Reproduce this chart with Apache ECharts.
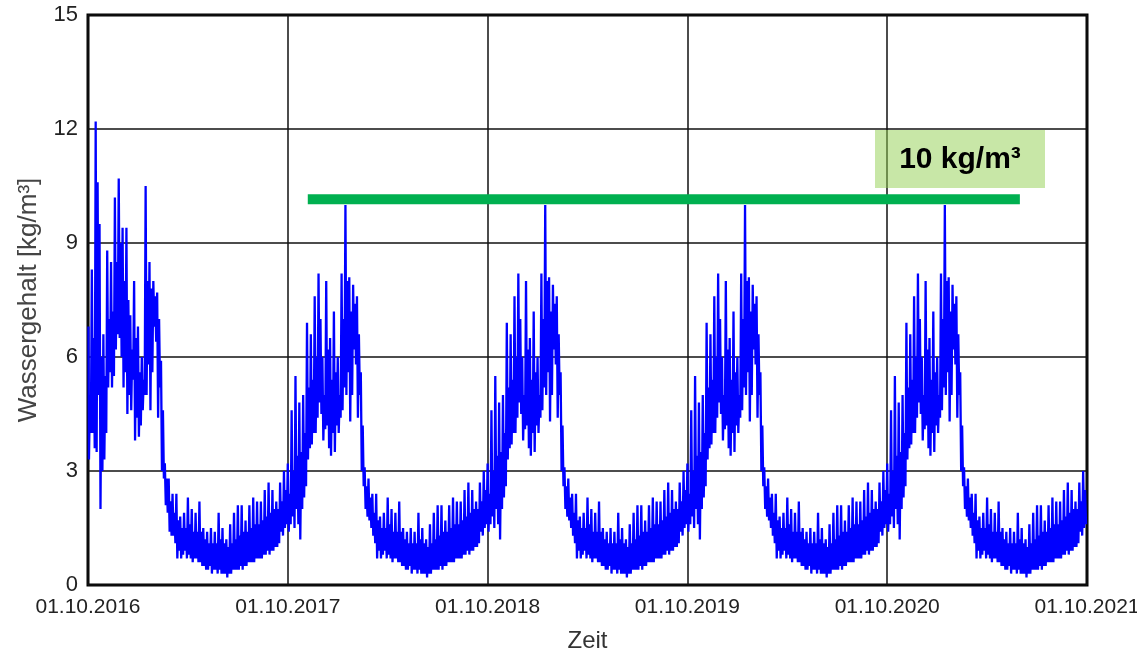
<!DOCTYPE html>
<html>
<head>
<meta charset="utf-8">
<script src="https://cdn.jsdelivr.net/npm/echarts@6/dist/echarts.min.js"></script>
<style>
  html, body { margin: 0; padding: 0; background: #fff; }
  #chart { width: 1137px; height: 655px; }
</style>
</head>
<body>
<div id="chart"></div>
<script>
// x axis: years after 01.10.2016, one gridline per year
const yearLabels = ['01.10.2016', '01.10.2017', '01.10.2018', '01.10.2019', '01.10.2020', '01.10.2021'];
const yTicks = [0, 3, 6, 9, 12, 15];

// first winter 2016/17, 22 weeks, 4 readings per week (peak, low, band, low)
const firstWinter = [
  6.8, 3.3, 5.0, 4.0,   8.3, 4.0, 6.5, 3.6,
  12.2, 3.5, 10.6, 5.0, 9.5, 2.0, 6.0, 3.0,
  6.6, 3.3, 5.5, 4.0,   8.8, 5.2, 7.0, 5.6,
  8.5, 5.2, 7.2, 5.5,   10.2, 6.2, 8.5, 6.6,
  10.7, 6.5, 9.0, 6.0,  9.4, 5.2, 8.0, 5.6,
  9.4, 4.5, 7.5, 5.0,   7.1, 4.6, 6.2, 5.4,
  8.0, 3.8, 6.5, 4.4,   6.8, 3.9, 5.6, 4.2,
  6.0, 4.6, 5.4, 5.0,   10.5, 5.0, 8.0, 5.8,
  8.5, 4.6, 7.8, 5.6,   8.0, 6.8, 7.6, 6.4,
  7.7, 4.4, 7.0, 5.2,   5.9, 3.0, 4.6, 2.8,
  3.2, 2.1, 2.8, 1.9,   2.8, 1.4, 2.2, 1.3
];

// a typical year (Oct..Sep), repeated 2017/18 .. 2020/21, 52 weeks x 4 readings
const typicalYear = [
  3.2, 1.4, 2.4, 1.6,   4.6, 1.8, 3.0, 1.5,
  5.5, 2.0, 3.4, 1.6,   4.8, 1.2, 3.5, 2.0,
  5.0, 2.3, 4.0, 2.6,   6.9, 3.3, 5.2, 3.6,
  6.6, 3.7, 5.4, 4.0,   7.6, 4.0, 6.0, 4.4,
  8.2, 4.8, 7.0, 4.5,   6.0, 3.8, 5.0, 4.1,
  8.0, 4.2, 6.2, 3.6,   6.5, 3.4, 5.4, 4.0,
  7.2, 3.5, 5.6, 4.2,   6.0, 4.0, 5.0, 4.4,
  8.2, 4.6, 7.0, 5.2,   10.0, 5.0, 8.0, 5.6,
  8.1, 4.3, 7.2, 5.0,   7.9, 6.2, 7.4, 5.8,
  7.6, 4.4, 6.6, 5.0,   5.6, 3.0, 4.2, 2.6,
  3.1, 2.0, 2.6, 1.8,   2.8, 1.7, 2.3, 1.5,
  2.4, 1.3, 1.9, 1.1,   2.4, 0.7, 1.7, 0.9,
  1.8, 0.7, 1.5, 0.8,   1.9, 0.9, 1.5, 0.7,
  2.3, 0.8, 1.6, 0.7,   2.0, 0.6, 1.4, 0.7,
  1.9, 0.7, 1.4, 0.6,   2.2, 0.6, 1.4, 0.5,
  1.5, 0.5, 1.2, 0.4,   1.4, 0.4, 1.1, 0.5,
  1.5, 0.3, 1.1, 0.4,   1.4, 0.4, 1.1, 0.3,
  1.9, 0.4, 1.2, 0.3,   1.5, 0.3, 1.1, 0.3,
  1.2, 0.2, 1.0, 0.3,   1.6, 0.3, 1.1, 0.4,
  1.9, 0.4, 1.2, 0.4,   2.1, 0.4, 1.3, 0.5,
  2.1, 0.4, 1.4, 0.5,   1.7, 0.5, 1.4, 0.6,
  2.1, 0.6, 1.5, 0.6,   2.3, 0.6, 1.6, 0.7,
  2.2, 0.7, 1.6, 0.7,   2.2, 0.7, 1.7, 0.8,
  2.5, 0.8, 1.8, 0.9,   2.7, 0.8, 1.9, 0.9,
  2.5, 0.9, 2.0, 1.0,   2.2, 1.0, 2.0, 1.1,
  2.7, 1.4, 2.2, 1.3,   3.0, 1.5, 2.5, 1.6
];

// 10 kg/m³ reference line (start / end in years, level)
const limitX = [1.1, 4.664];
const limitY = 10.15;
const limitText = '10 kg/m³';

const years = [
  firstWinter.concat(typicalYear.slice(firstWinter.length)),
  typicalYear, typicalYear, typicalYear, typicalYear
];
const water = [];
years.forEach(function (vals, k) {
  vals.forEach(function (v, i) {
    water.push([k + (i + 0.5) / vals.length, v]);
  });
});

const font = 'Liberation Sans, Arial, sans-serif';
const chart = echarts.init(document.getElementById('chart'));
const option = {
  animation: false,
  backgroundColor: '#fff',
  grid: {
    left: 88, right: 50, top: 15, bottom: 70,
    outerBoundsMode: 'none', containLabel: false,
    show: true, borderColor: '#000', borderWidth: 3, backgroundColor: 'transparent'
  },
  xAxis: {
    type: 'value', min: 0, max: 5, interval: 1,
    name: 'Zeit', nameLocation: 'middle', nameGap: 44,
    nameTextStyle: { fontFamily: font, fontSize: 24, color: '#333' },
    axisLine: { show: false }, axisTick: { show: false },
    axisLabel: {
      fontFamily: font, fontSize: 21, color: '#222', margin: 12,
      formatter: function (v) { return yearLabels[Math.round(v)]; }
    },
    splitLine: { show: true, lineStyle: { color: '#111', width: 1.5 } }
  },
  yAxis: {
    type: 'value', min: yTicks[0], max: yTicks[yTicks.length - 1], interval: 3,
    name: 'Wassergehalt [kg/m³]', nameLocation: 'middle', nameGap: 46,
    nameTextStyle: { fontFamily: font, fontSize: 26, color: '#444' },
    axisLine: { show: false }, axisTick: { show: false },
    axisLabel: { fontFamily: font, fontSize: 22, color: '#222', margin: 10 },
    splitLine: { show: true, lineStyle: { color: '#111', width: 1.5 } }
  },
  series: [
    {
      type: 'line', data: water, step: 'middle', showSymbol: false,
      sampling: null, z: 2,
      lineStyle: { color: '#0000ff', width: 2.3 }
    },
    {
      type: 'line', data: [[limitX[0], limitY], [limitX[1], limitY]],
      showSymbol: false, z: 3,
      lineStyle: { color: '#00b050', width: 10, cap: 'butt' }
    }
  ],
  graphic: [
    {
      type: 'rect', z: 10,
      shape: { x: 875, y: 130, width: 170, height: 58 },
      style: { fill: 'rgba(146,208,80,0.5)' }
    },
    {
      type: 'text', z: 11, x: 960, y: 160,
      style: {
        text: limitText, fontFamily: font, fontSize: 30, fontWeight: 'bold',
        fill: '#000', align: 'center', verticalAlign: 'middle'
      }
    }
  ]
};
chart.setOption(option);
</script>
</body>
</html>
